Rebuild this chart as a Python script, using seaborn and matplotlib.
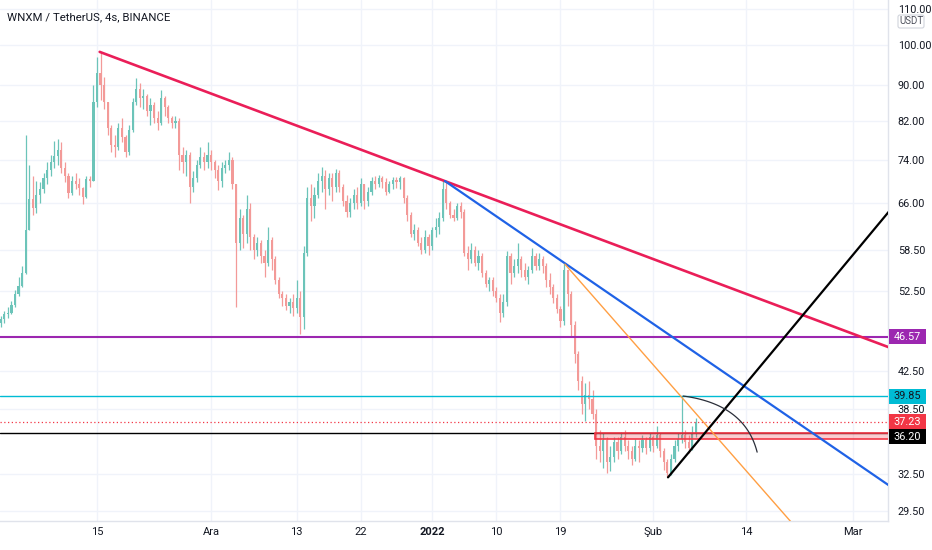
import numpy as np
import pandas as pd
import matplotlib
matplotlib.use("Agg")
import matplotlib.pyplot as plt
import matplotlib.dates as mdates
from matplotlib.patches import Rectangle, FancyBboxPatch
from matplotlib.transforms import IdentityTransform
from matplotlib.ticker import NullLocator, NullFormatter
import seaborn as sns

# ---------------- data ----------------
TITLE = "WNXM / TetherUS, 4s, BINANCE"
FIRST_CANDLE = "2021-11-01 12:00"
CANDLE_FREQ = "12h"
first_open = 48.3

close = [48.8, 49.4, 49.6, 50.6, 52.0, 53.2, 55.0, 61.5, 66.8, 65.2, 67.5, 68.5,
         70.5, 72.0, 73.5, 74.8, 76.0, 72.5, 71.0,
         67.8, 70.0, 69.5, 68.8, 67.2, 70.3, 70.0,
         86.0, 93.0, 90.0, 86.0, 80.5, 77.0, 76.5, 80.5, 78.5, 75.5, 80.0, 86.0, 89.0,
         87.0, 87.5, 84.0, 85.5, 82.5, 81.5, 87.0, 85.0,
         82.5, 81.5, 82.0, 75.0, 73.5, 75.0, 69.0,
         70.5, 73.0, 74.5, 73.5, 75.0, 73.5, 72.0, 70.0, 72.5, 73.0, 74.0, 69.5,
         59.5, 63.5, 61.0, 65.0, 60.5,
         58.5, 59.5, 57.5, 56.5, 60.0, 57.0,
         54.0, 52.0, 51.5, 50.5, 51.0, 50.2, 51.5, 49.0,
         58.0, 67.0, 65.5, 67.5, 70.0, 71.0, 68.5, 70.5, 69.0, 71.5, 69.0,
         66.5, 64.5, 66.0, 67.5, 66.0, 69.5, 66.5, 68.0, 70.0, 69.5, 70.5, 69.8, 68.0, 69.5, 70.2, 69.8, 70.5, 67.0,
         64.0, 61.0, 61.5, 59.5, 58.5, 60.5, 59.0, 61.5, 62.0, 63.5, 68.5,
         66.0, 64.0, 63.5, 65.5, 64.5, 58.0, 57.0, 58.5,
         56.5, 57.5, 55.0, 53.5, 54.0, 52.5, 51.5, 49.5, 51.0, 57.5,
         55.0, 56.0, 57.0, 55.5, 54.5, 55.5, 57.5, 56.0, 57.0, 56.0,
         54.0, 53.0, 51.5, 50.0, 48.5, 55.5,
         52.0, 48.0, 44.5, 41.5, 39.0, 40.0, 39.5, 38.0, 35.0,
         34.5, 35.5, 33.5, 34.0, 35.3, 34.5, 35.8, 35.0, 34.5, 33.8, 35.0, 34.8, 35.5, 34.8, 35.8, 35.0, 36.0,
         34.5, 33.5, 32.6, 33.8, 35.0, 35.6, 36.0, 35.3, 34.8, 36.2, 37.23]

high = [49.2, 49.8, 50.3, 51.1, 52.6, 54.4, 56.0, 79.0, 73.0, 71.0, 70.0, 69.8,
        71.5, 73.5, 75.0, 77.8, 78.2, 77.5, 73.5,
        71.5, 71.0, 71.5, 70.5, 69.0, 71.0, 71.0,
        90.0, 97.0, 98.2, 92.0, 86.0, 81.0, 79.0, 81.5, 82.5, 79.0, 81.0, 87.0, 91.7,
        90.5, 89.0, 88.0, 87.0, 86.0, 84.0, 88.9, 87.5,
        85.5, 83.0, 83.0, 82.5, 76.5, 76.0, 75.5,
        71.8, 74.0, 76.5, 75.5, 77.5, 76.0, 74.0, 73.0, 73.5, 74.0, 75.5, 74.5,
        69.5, 65.0, 64.0, 67.5, 66.0,
        61.0, 60.5, 60.0, 58.5, 62.0, 60.5,
        57.5, 54.5, 52.5, 52.0, 51.5, 52.0, 54.0, 52.5,
        59.0, 69.0, 69.5, 69.0, 71.5, 72.6, 72.0, 71.5, 71.5, 72.2, 72.0,
        69.5, 67.5, 67.0, 68.5, 69.0, 70.5, 69.5, 69.0, 70.8, 71.0, 71.2, 71.0, 70.5, 70.0, 70.8, 70.7, 71.0, 70.8,
        67.5, 64.5, 62.5, 62.0, 60.5, 61.5, 61.0, 62.0, 63.5, 64.5, 70.2,
        70.0, 66.5, 65.0, 66.0, 66.2, 65.0, 59.0, 59.5,
        59.0, 58.5, 58.0, 55.5, 54.5, 54.5, 53.0, 52.0, 52.0, 58.2,
        58.0, 57.0, 59.5, 57.5, 56.5, 56.0, 58.8, 58.0, 58.0, 57.5,
        56.5, 55.0, 53.5, 52.0, 50.5, 56.5,
        55.5, 52.5, 48.5, 44.8, 42.0, 41.2, 41.5, 40.5, 38.5,
        36.5, 36.2, 35.8, 35.0, 35.8, 35.8, 36.3, 36.5, 35.5, 35.0, 35.6, 35.5, 36.0, 35.8, 36.2, 36.0, 36.8,
        36.2, 34.8, 33.8, 34.2, 35.5, 36.2, 39.85, 36.5, 36.0, 36.8, 37.6]

low = [47.8, 48.3, 48.9, 49.4, 50.3, 51.8, 53.0, 54.8, 63.5, 64.0, 64.4, 66.0,
       67.8, 69.5, 71.0, 72.5, 73.0, 71.5, 69.8,
       67.0, 67.5, 68.5, 67.5, 65.9, 67.0, 69.0,
       70.0, 85.0, 86.5, 84.5, 79.0, 75.5, 74.6, 76.0, 77.5, 74.5, 75.0, 79.5, 85.5,
       85.0, 84.5, 83.0, 81.0, 81.5, 80.0, 81.0, 83.0,
       81.5, 80.5, 80.5, 72.0, 71.5, 71.0, 66.0,
       68.0, 69.8, 72.5, 72.0, 72.5, 72.0, 70.5, 68.4, 69.0, 71.5, 72.0, 68.5,
       50.3, 58.5, 58.8, 59.5, 58.5,
       57.0, 57.5, 56.5, 54.5, 56.0, 55.5,
       53.5, 51.5, 50.5, 49.9, 49.5, 49.2, 49.5, 46.9,
       47.5, 57.5, 63.0, 63.5, 67.0, 68.0, 65.0, 67.5, 66.5, 68.0, 68.0,
       65.5, 63.7, 63.7, 65.0, 65.0, 65.5, 65.0, 65.5, 67.5, 68.5, 69.0, 68.8, 67.5, 67.8, 68.5, 68.8, 68.5, 66.0,
       63.0, 60.5, 60.0, 59.0, 57.8, 58.0, 57.6, 58.5, 60.5, 61.0, 63.0,
       65.0, 63.5, 63.0, 63.2, 63.5, 57.5, 55.5, 56.5,
       56.0, 55.5, 54.5, 53.0, 52.5, 51.8, 51.0, 48.4, 49.0, 50.5,
       53.5, 54.5, 55.0, 54.5, 54.0, 53.5, 55.0, 55.5, 55.5, 55.0,
       53.0, 52.0, 50.8, 49.5, 47.8, 48.0,
       50.5, 46.5, 43.5, 40.5, 38.0, 37.3, 38.5, 37.5, 33.8,
       33.5, 33.0, 32.6, 32.7, 33.5, 33.8, 34.2, 34.5, 33.8, 33.3, 33.6, 33.5, 34.4, 34.2, 34.5, 34.4, 34.8,
       34.0, 32.8, 32.2, 32.4, 33.5, 34.5, 35.2, 34.8, 34.3, 34.6, 35.8]

x_tick_dates = ["2021-11-15", "2021-12-01", "2021-12-13", "2021-12-22", "2022-01-01",
                "2022-01-10", "2022-01-19", "2022-02-01", "2022-02-14", "2022-03-01"]
x_tick_labels = ["15", "Ara", "13", "22", "2022", "10", "19", "Şub", "14", "Mar"]
y_ticks = [29.5, 32.5, 38.5, 42.5, 52.5, 58.5, 66.0, 74.0, 82.0, 90.0, 100.0, 110.0]

view_dates = ["2021-11-01 09:30", "2022-03-05 22:30"]
view_prices = [28.72, 112.5]

# horizontal levels
level_prices = [46.57, 39.85, 37.23, 36.20]
level_labels = ["46.57", "39.85", "37.23", "36.20"]

# pink support zone
zone_start = "2022-01-23 20:00"
zone_prices = [35.65, 36.20]

# trend lines (two anchors each)
trend_names = ["red", "blue", "orange", "black"]
trend_start_dates = ["2021-11-15 09:00", "2022-01-02 19:00", "2022-01-19 15:00", "2022-02-03 02:00"]
trend_start_prices = [98.2, 70.0, 56.3, 32.2]
trend_end_dates = ["2022-03-11 19:00", "2022-03-11 19:00", "2022-02-21 14:00", "2022-03-11 19:00"]
trend_end_prices = [43.5, 29.3, 27.9, 73.5]

# arc (quadratic curve: start, control, end)
arc_dates = ["2022-02-05 05:00", "2022-02-13 21:00", "2022-02-15 14:00"]
arc_prices = [39.85, 39.0, 34.4]

# ---------------- styling ----------------
UP = "#6cc4b9"
DOWN = "#f39a98"
GRID = "#f0f3fa"
TEXT = "#131722"
trend_colors = {"red": "#ea1e58", "blue": "#1f62e6", "orange": "#ff9f43", "black": "#000000"}
trend_widths = {"red": 1.9, "blue": 1.6, "orange": 1.0, "black": 1.6}

sns.set_theme(style="white")
FONT = ["Liberation Sans Narrow", "Roboto", "DejaVu Sans"]
plt.rcParams["font.family"] = FONT

W, H = 932, 550
fig = plt.figure(figsize=(W / 100, H / 100), dpi=100)
fig.patch.set_facecolor("white")
ax = fig.add_axes([0, 29 / H, 888 / W, 521 / H])
ax.set_facecolor("white")
ax.set_yscale("log")

# ---------------- candles ----------------
times = pd.date_range(FIRST_CANDLE, periods=len(close), freq=CANDLE_FREQ)
opens = [first_open] + close[:-1]
df = pd.DataFrame({"time": times, "open": opens, "close": close, "high": high, "low": low})
xnum = mdates.date2num(df["time"])
up = (df["close"] >= df["open"]).to_numpy()
cols = np.where(up, UP, DOWN)
body_lo = np.minimum(df["open"], df["close"]).to_numpy()
body_hi = np.maximum(df["open"], df["close"]).to_numpy()
body_h = np.maximum(body_hi - body_lo, body_lo * 0.002)
ax.vlines(xnum, np.minimum(df["low"], body_lo), np.maximum(df["high"], body_hi),
          colors=cols, lw=0.9, zorder=3)
ax.bar(xnum, body_h, bottom=body_lo, width=0.3, color=cols, lw=0, zorder=3)

# ---------------- levels ----------------
xl = mdates.date2num(pd.to_datetime(view_dates))
ax.axhline(level_prices[0], color="#9c27b0", lw=1.5, zorder=4)
ax.axhline(level_prices[1], color="#00bcd4", lw=1.0, zorder=4)
ax.axhline(level_prices[2], color="#f23645", lw=0.9, ls=(0, (1, 2)), zorder=4)
ax.axhline(level_prices[3], color="#000000", lw=1.0, zorder=4)
zx = mdates.date2num(pd.Timestamp(zone_start))
ax.add_patch(Rectangle((zx, zone_prices[0]), xl[1] + 5 - zx, zone_prices[1] - zone_prices[0],
                       facecolor=(0.95, 0.21, 0.27, 0.25), edgecolor="#f23645", lw=1.2, zorder=4))

# ---------------- trend lines via seaborn ----------------
rows = []
for n, sd, sp, ed, ep in zip(trend_names, trend_start_dates, trend_start_prices, trend_end_dates, trend_end_prices):
    rows.append({"line": n, "date": pd.Timestamp(sd), "price": sp})
    rows.append({"line": n, "date": pd.Timestamp(ed), "price": ep})
trend_df = pd.DataFrame(rows)
sns.lineplot(data=trend_df, x="date", y="price", hue="line", palette=trend_colors,
             size="line", sizes=trend_widths, estimator=None, sort=False,
             legend=False, ax=ax, zorder=5)

# arc
ad = mdates.date2num(pd.to_datetime(arc_dates))
ap = np.log(np.array(arc_prices))
t = np.linspace(0, 1, 60)
bx = (1 - t) ** 2 * ad[0] + 2 * t * (1 - t) * ad[1] + t ** 2 * ad[2]
by = (1 - t) ** 2 * ap[0] + 2 * t * (1 - t) * ap[1] + t ** 2 * ap[2]
ax.plot(bx, np.exp(by), color="#2a2e39", lw=0.9, zorder=5)

# ---------------- axes ----------------
ax.set_xlim(xl[0], xl[1])
ax.set_ylim(view_prices[0], view_prices[1])
ax.set_xlabel("")
ax.set_ylabel("")

ax.yaxis.tick_right()
ax.set_yticks(y_ticks)
ax.set_yticklabels([f"{v:.2f}" for v in y_ticks])
ax.yaxis.set_minor_locator(NullLocator())
ax.yaxis.set_minor_formatter(NullFormatter())
ax.set_xticks(mdates.date2num(pd.to_datetime(x_tick_dates)))
ax.set_xticklabels(x_tick_labels)
ax.tick_params(axis="y", length=0, pad=7, labelsize=7.8, labelcolor=TEXT)
ax.tick_params(axis="x", length=0, pad=4, labelsize=8, labelcolor=TEXT)
ax.get_xticklabels()[4].set_fontweight("bold")
ax.grid(True, color=GRID, lw=1.0, zorder=0)
ax.set_axisbelow(True)
for s in ["top", "left"]:
    ax.spines[s].set_visible(False)
for s in ["right", "bottom"]:
    ax.spines[s].set_color("#e0e3eb")
    ax.spines[s].set_linewidth(1.0)

# ---------------- price tags on the axis ----------------
tag_styles = [("#9c27b0", "white", 0), ("#00bcd4", TEXT, 0), ("#f23645", "white", 0), ("#000000", "white", -4)]
x_axis_right = ax.transAxes.transform((1, 0))[0]
for p, lab, (fc, tc, dy) in zip(level_prices, level_labels, tag_styles):
    yd = ax.transData.transform((xl[0], p))[1] + dy
    fig.add_artist(Rectangle((x_axis_right + 1, yd - 7.5), 37, 15, transform=IdentityTransform(),
                             facecolor=fc, edgecolor="none", zorder=10))
    fig.text(x_axis_right + 19.5, yd, lab, transform=IdentityTransform(), ha="center", va="center",
             color=tc, fontsize=7.8, zorder=11)

# USDT box
fig.add_artist(FancyBboxPatch((898, H - 28), 26, 13, boxstyle="round,pad=0,rounding_size=2",
                              transform=IdentityTransform(), facecolor="white",
                              edgecolor="#d1d4dc", lw=0.8, zorder=10))
fig.text(911, H - 21.5, "USDT", transform=IdentityTransform(), ha="center", va="center",
         color="#50535e", fontsize=7, zorder=11)

# title
fig.text(7 / W, 1 - 17 / H, TITLE, ha="left", va="center", fontsize=8.2, color=TEXT)

fig.savefig("out.png", dpi=100, facecolor="white")
